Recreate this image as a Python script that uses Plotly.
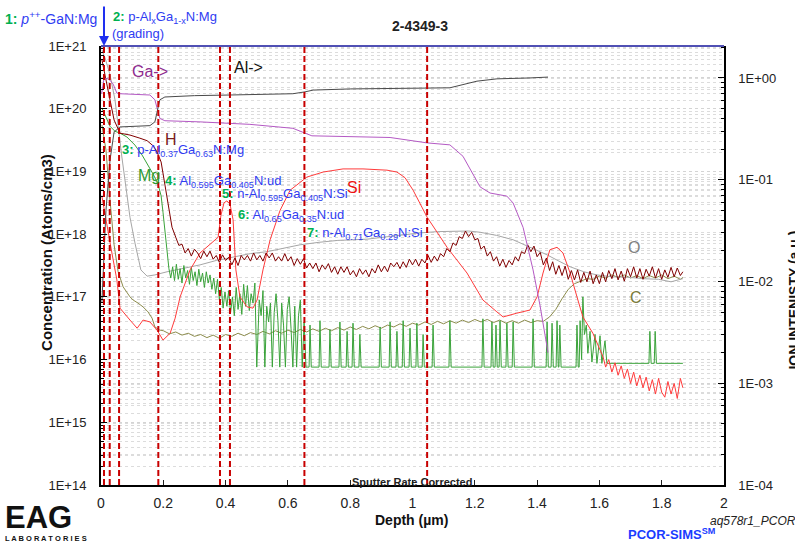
import plotly.graph_objects as go

# ---------------- data ----------------
interfaces = [0.0096, 0.028, 0.058, 0.184, 0.382, 0.414, 0.653, 1.047]

x_ticks = [0, 0.2, 0.4, 0.6, 0.8, 1.0, 1.2, 1.4, 1.6, 1.8, 2.0]
x_ticktext = ["0", "0.2", "0.4", "0.6", "0.8", "1", "1.2", "1.4", "1.6", "1.8", "2"]
conc_ticks = [1e14, 1e15, 1e16, 1e17, 1e18, 1e19, 1e20, 1e21]
conc_ticktext = ["1E+14", "1E+15", "1E+16", "1E+17", "1E+18", "1E+19", "1E+20", "1E+21"]
ion_ticks = [1e-4, 1e-3, 1e-2, 1e-1, 1e0]
ion_ticktext = ["1E-04", "1E-03", "1E-02", "1E-01", "1E+00"]

# Ion intensities (a.u.) - right axis
ga_depth = [0.002, 0.010, 0.022, 0.029, 0.039, 0.051, 0.061, 0.157, 0.173, 0.189, 0.205, 0.318,
            0.478, 0.616, 0.677, 0.928, 1.047, 1.120, 1.162, 1.217, 1.249, 1.303, 1.323, 1.355,
            1.387, 1.409, 1.435]
ga_int = [0.70, 1.00, 0.98, 0.95, 0.87, 0.71, 0.70, 0.68, 0.61, 0.40, 0.38, 0.37,
          0.35, 0.32, 0.27, 0.26, 0.23, 0.22, 0.17, 0.085, 0.074, 0.069, 0.059, 0.034,
          0.013, 0.0059, 0.0020]

al_depth = [0.003, 0.016, 0.029, 0.042, 0.061, 0.157, 0.173, 0.189, 0.205, 0.300, 0.414, 0.520,
            0.616, 0.655, 0.681, 0.800, 0.950, 1.047, 1.120, 1.207, 1.271, 1.377, 1.435]
al_int = [0.0063, 0.050, 0.156, 0.294, 0.33, 0.34, 0.37, 0.61, 0.65, 0.67, 0.68, 0.69,
          0.70, 0.73, 0.76, 0.78, 0.79, 0.80, 0.80, 0.93, 0.98, 1.00, 1.02]

# Concentrations (log10 atoms/cm3) - left axis
o_depth = [0.003, 0.013, 0.029, 0.045, 0.067, 0.093, 0.109, 0.128, 0.148, 0.173, 0.212, 0.260,
           0.318, 0.370, 0.424, 0.480, 0.533, 0.590, 0.639, 0.700, 0.760, 0.854, 0.940, 1.024,
           1.080, 1.130, 1.180, 1.217, 1.270, 1.323, 1.377, 1.432, 1.470, 1.506, 1.550, 1.592,
           1.640, 1.698, 1.740, 1.790, 1.830, 1.868]
o_log = [20.94, 20.81, 20.54, 20.14, 19.23, 18.27, 17.86, 17.43, 17.33, 17.35, 17.40, 17.45,
         17.51, 17.58, 17.64, 17.69, 17.72, 17.78, 17.83, 17.87, 17.90, 17.92, 17.97, 18.02,
         18.04, 18.05, 18.05, 18.03, 17.98, 17.91, 17.79, 17.67, 17.57, 17.48, 17.40, 17.35,
         17.32, 17.31, 17.29, 17.28, 17.24, 17.29]

h_depth = [0.003, 0.016, 0.029, 0.042, 0.061, 0.093, 0.125, 0.148, 0.167, 0.180, 0.193, 0.199,
           0.205, 0.215, 0.228,
           0.24, 0.25, 0.26, 0.27, 0.28, 0.29, 0.30, 0.31, 0.32, 0.33, 0.34, 0.35, 0.36, 0.37,
           0.38, 0.39, 0.40, 0.41, 0.42, 0.43, 0.44, 0.45, 0.46, 0.47, 0.48, 0.49, 0.50, 0.51,
           0.52, 0.53, 0.54, 0.55, 0.56, 0.57, 0.58, 0.59, 0.60, 0.61, 0.62, 0.63, 0.64, 0.65,
           0.66, 0.67, 0.68, 0.69, 0.70, 0.71, 0.72, 0.73, 0.74, 0.75, 0.76, 0.77, 0.78, 0.79,
           0.80, 0.81, 0.82, 0.83, 0.84, 0.85, 0.86, 0.87, 0.88, 0.89, 0.90, 0.91, 0.92, 0.93,
           0.94, 0.95, 0.96, 0.97, 0.98, 0.99, 1.00, 1.01, 1.02, 1.03, 1.04, 1.05, 1.06, 1.07,
           1.08, 1.09, 1.10, 1.11, 1.12, 1.13, 1.14, 1.15, 1.16, 1.17, 1.18, 1.19, 1.20, 1.21,
           1.22, 1.23, 1.24, 1.25, 1.26, 1.27, 1.28, 1.29, 1.30, 1.31, 1.32, 1.33, 1.34, 1.35,
           1.36, 1.37, 1.38, 1.39, 1.40, 1.41, 1.42, 1.43, 1.44, 1.45, 1.46, 1.47, 1.48, 1.49,
           1.50, 1.51, 1.52, 1.53, 1.54, 1.55, 1.56, 1.57, 1.58, 1.59, 1.60, 1.61, 1.62, 1.63,
           1.64, 1.65, 1.66, 1.67, 1.68, 1.69, 1.70, 1.71, 1.72, 1.73, 1.74, 1.75, 1.76, 1.77,
           1.78, 1.79, 1.80, 1.81, 1.82, 1.83, 1.84, 1.85, 1.86, 1.868]
h_log = [20.78, 20.46, 20.14, 19.82, 19.61, 19.58, 19.53, 19.49, 19.41, 19.31, 19.15, 18.97,
         18.75, 18.43, 18.11,
         17.95, 17.82, 17.84, 17.70, 17.77, 17.65, 17.76, 17.70, 17.61, 17.73, 17.64, 17.73, 17.60, 17.66,
         17.55, 17.67, 17.58, 17.63, 17.51, 17.62, 17.50, 17.66, 17.59, 17.66, 17.57, 17.70, 17.59, 17.66,
         17.57, 17.70, 17.62, 17.70, 17.57, 17.64, 17.57, 17.69, 17.57, 17.64, 17.50, 17.61, 17.52, 17.61,
         17.46, 17.54, 17.45, 17.54, 17.40, 17.51, 17.44, 17.53, 17.39, 17.48, 17.36, 17.48, 17.39, 17.48,
         17.35, 17.42, 17.32, 17.45, 17.36, 17.43, 17.32, 17.45, 17.38, 17.51, 17.40, 17.49, 17.40, 17.54,
         17.48, 17.55, 17.45, 17.56, 17.47, 17.60, 17.51, 17.60, 17.49, 17.60, 17.54, 17.66, 17.55, 17.65,
         17.57, 17.69, 17.64, 17.77, 17.72, 17.86, 17.82, 17.96, 17.93, 18.05, 17.96, 18.03, 17.91, 17.93,
         17.76, 17.81, 17.65, 17.72, 17.57, 17.64, 17.49, 17.60, 17.47, 17.58, 17.51, 17.64, 17.57, 17.72,
         17.69, 17.83, 17.72, 17.81, 17.64, 17.71, 17.51, 17.62, 17.42, 17.56, 17.36, 17.50, 17.34, 17.49,
         17.28, 17.42, 17.27, 17.43, 17.23, 17.39, 17.24, 17.41, 17.21, 17.35, 17.21, 17.39, 17.24, 17.42,
         17.29, 17.45, 17.27, 17.41, 17.25, 17.45, 17.32, 17.48, 17.30, 17.45, 17.28, 17.44, 17.33, 17.48,
         17.30, 17.45, 17.28, 17.43, 17.31, 17.47, 17.32, 17.46, 17.34, 17.40]

mg_depth = [0.003, 0.016, 0.029, 0.045, 0.061, 0.083, 0.109, 0.132, 0.151, 0.167, 0.183, 0.193,
            0.199, 0.205, 0.212, 0.218,
            0.224, 0.230, 0.236, 0.242, 0.248, 0.254, 0.260, 0.266, 0.272, 0.278, 0.284, 0.290,
            0.296, 0.302, 0.308, 0.314, 0.320, 0.326, 0.332, 0.338, 0.344, 0.350, 0.356, 0.362,
            0.368, 0.374, 0.380, 0.386, 0.392, 0.398,
            0.404, 0.410, 0.416, 0.422, 0.428, 0.434, 0.440, 0.446, 0.452, 0.458, 0.464, 0.470,
            0.476, 0.482, 0.488, 0.494, 0.500,
            0.508, 0.514, 0.520, 0.526, 0.532, 0.538, 0.544, 0.550, 0.556, 0.562, 0.568, 0.574,
            0.580, 0.586, 0.592, 0.598, 0.604, 0.610, 0.616, 0.622, 0.628, 0.634, 0.640, 0.646,
            0.652, 0.658,
            0.668, 0.671, 0.675, 0.700, 0.703, 0.707, 0.732, 0.735, 0.739, 0.764, 0.767, 0.771,
            0.787, 0.790, 0.794, 0.806, 0.809, 0.813, 0.828, 0.831, 0.835, 0.893, 0.896, 0.900,
            0.925, 0.928, 0.932, 0.947, 0.950, 0.954, 0.967, 0.970, 0.974, 0.989, 0.992, 0.996,
            1.011, 1.014, 1.018, 1.031, 1.034, 1.038, 1.063, 1.066, 1.070, 1.117, 1.120, 1.124,
            1.223, 1.226, 1.230, 1.252, 1.255, 1.259, 1.265, 1.268, 1.272, 1.278, 1.281, 1.285,
            1.300, 1.303, 1.307, 1.320, 1.323, 1.327, 1.384, 1.387, 1.391, 1.429, 1.432, 1.436,
            1.445, 1.448, 1.452, 1.461, 1.464, 1.468, 1.470, 1.473, 1.477, 1.525, 1.528, 1.532,
            1.535, 1.538, 1.543, 1.547, 1.552, 1.558, 1.563, 1.570, 1.576, 1.586, 1.592, 1.602,
            1.608, 1.618, 1.624, 1.759, 1.762, 1.766, 1.776, 1.779, 1.783, 1.868]
mg_log = [20.01, 19.85, 19.72, 19.64, 19.61, 19.55, 19.42, 19.26, 19.10, 18.96, 18.80, 18.61,
          18.35, 18.03, 17.67, 17.45,
          17.30, 17.48, 17.26, 17.52, 17.28, 17.45, 17.22, 17.50, 17.30, 17.42, 17.20, 17.47,
          17.26, 17.40, 17.18, 17.44, 17.24, 17.38, 17.15, 17.40, 17.22, 17.35, 17.12, 17.30,
          17.05, 17.28, 16.95, 17.15, 16.82, 17.08,
          16.85, 17.10, 16.75, 17.00, 16.70, 17.15, 16.80, 17.05, 16.72, 17.20, 16.85, 17.18,
          16.78, 17.05, 16.90, 17.22, 15.88,
          16.95, 16.70, 17.10, 15.88, 16.85, 16.60, 16.90, 15.88, 16.75, 17.05, 16.62, 15.88,
          16.90, 16.55, 15.88, 16.80, 17.00, 16.50, 15.88, 16.85, 15.88, 16.70, 16.95, 15.88,
          16.60, 15.88,
          15.88, 16.55, 15.88, 15.88, 16.62, 15.88, 15.88, 16.48, 15.88, 15.88, 16.60, 15.88,
          15.88, 16.45, 15.88, 15.88, 16.58, 15.88, 15.88, 16.40, 15.88, 15.88, 16.52, 15.88,
          15.88, 16.60, 15.88, 15.88, 16.45, 15.88, 15.88, 16.62, 15.88, 15.88, 16.50, 15.88,
          15.88, 16.58, 15.88, 15.88, 16.40, 15.88, 15.88, 16.55, 15.88, 15.88, 16.62, 15.88,
          15.88, 16.65, 15.88, 15.88, 16.60, 15.88, 15.88, 16.55, 15.88, 15.88, 16.62, 15.88,
          15.88, 16.58, 15.88, 15.88, 16.60, 15.88, 15.88, 16.65, 15.88, 15.88, 16.60, 15.88,
          15.88, 16.58, 15.88, 15.88, 16.62, 15.88, 15.88, 16.55, 15.88, 15.88, 16.55, 15.88,
          15.88, 16.62, 16.00, 17.00, 16.40, 16.55, 16.10, 16.45, 15.96, 16.40, 15.94, 16.38,
          15.94, 16.30, 15.94, 15.94, 16.45, 15.94, 15.94, 16.45, 15.94, 15.94]

si_depth = [0.003, 0.020, 0.035, 0.051, 0.061, 0.093, 0.116, 0.135, 0.157, 0.180, 0.199, 0.222,
            0.238, 0.254, 0.286, 0.318, 0.360, 0.376, 0.385, 0.395, 0.404, 0.414, 0.424, 0.433,
            0.446, 0.469, 0.488, 0.501, 0.520, 0.543, 0.575, 0.607, 0.661, 0.713, 0.777, 0.841,
            0.918, 0.950, 0.976, 1.002, 1.047, 1.111, 1.175, 1.226, 1.271, 1.291, 1.335, 1.377,
            1.400, 1.419, 1.441, 1.464, 1.483, 1.506, 1.528, 1.547, 1.579, 1.612, 1.620, 1.630,
            1.640, 1.650, 1.660, 1.670, 1.680, 1.690, 1.700, 1.710, 1.720, 1.730, 1.740, 1.750,
            1.760, 1.770, 1.780, 1.790, 1.800, 1.810, 1.820, 1.830, 1.840, 1.850, 1.860, 1.868]
si_log = [18.60, 18.10, 17.70, 17.27, 16.82, 16.63, 16.50, 16.63, 16.60, 16.47, 16.31, 16.42,
          16.66, 17.00, 17.43, 17.70, 17.87, 17.95, 18.30, 18.50, 18.53, 18.48, 18.23, 17.43,
          17.00, 16.84, 16.82, 16.95, 17.43, 17.91, 18.38, 18.70, 18.91, 18.99, 19.04, 19.04,
          19.02, 18.99, 18.90, 18.70, 18.27, 17.79, 17.38, 16.95, 16.76, 16.68, 16.74, 16.79,
          17.00, 17.38, 17.75, 17.79, 17.70, 17.38, 17.00, 16.68, 16.42, 16.04, 15.88, 16.00,
          15.80, 15.95, 15.75, 15.90, 15.70, 15.85, 15.62, 15.80, 15.58, 15.75, 15.55, 15.72,
          15.50, 15.68, 15.45, 15.70, 15.48, 15.40, 15.65, 15.45, 15.62, 15.38, 15.70, 15.55]

c_depth = [0.003, 0.016, 0.029, 0.042, 0.055, 0.071, 0.093, 0.103, 0.119, 0.135, 0.151, 0.164,
           0.173, 0.189,
           0.20, 0.22, 0.24, 0.26, 0.28, 0.30, 0.32, 0.34, 0.36, 0.38, 0.40, 0.42, 0.44, 0.46,
           0.48, 0.50, 0.52, 0.54, 0.56, 0.58, 0.60, 0.62, 0.64, 0.66, 0.68, 0.70, 0.72, 0.74,
           0.76, 0.78, 0.80, 0.82, 0.84, 0.86, 0.88, 0.90, 0.92, 0.94, 0.96, 0.98, 1.00, 1.02,
           1.04, 1.06, 1.08, 1.10, 1.12, 1.14, 1.16, 1.18, 1.20, 1.22, 1.24, 1.26, 1.28, 1.30,
           1.32, 1.34, 1.36, 1.38, 1.40, 1.42, 1.44, 1.46, 1.48, 1.50, 1.52, 1.54, 1.56, 1.58,
           1.60, 1.62, 1.64, 1.66, 1.68, 1.70, 1.72, 1.74, 1.76, 1.78, 1.80, 1.82, 1.84, 1.86,
           1.868]
c_log = [19.74, 19.34, 18.54, 17.83, 17.40, 17.16, 17.00, 16.95, 16.90, 16.84, 16.76, 16.66,
         16.52, 16.47,
         16.46, 16.41, 16.44, 16.39, 16.42, 16.37, 16.40, 16.35, 16.39, 16.34, 16.40, 16.37, 16.42, 16.38,
         16.43, 16.40, 16.45, 16.41, 16.46, 16.42, 16.47, 16.43, 16.48, 16.44, 16.49, 16.45, 16.50, 16.46,
         16.51, 16.47, 16.52, 16.48, 16.53, 16.49, 16.54, 16.50, 16.55, 16.52, 16.57, 16.53, 16.58, 16.55,
         16.60, 16.56, 16.61, 16.57, 16.62, 16.58, 16.63, 16.59, 16.64, 16.60, 16.64, 16.59, 16.63, 16.58,
         16.62, 16.58, 16.63, 16.59, 16.62, 16.61, 16.68, 16.80, 16.97, 17.12, 17.21, 17.25, 17.29, 17.28,
         17.33, 17.30, 17.35, 17.31, 17.35, 17.30, 17.34, 17.29, 17.34, 17.30, 17.35, 17.29, 17.33, 17.28,
         17.31]

# ---------------- figure ----------------
FONT = "Arial, Liberation Sans, sans-serif"
fig = go.Figure()

def conc(vals):
    return [10.0 ** v for v in vals]

fig.add_trace(go.Scatter(x=c_depth, y=conc(c_log), mode="lines", line=dict(color="#8c8c4c", width=1), name="C"))
fig.add_trace(go.Scatter(x=o_depth, y=conc(o_log), mode="lines", line=dict(color="#a6a6a6", width=1), name="O"))
fig.add_trace(go.Scatter(x=mg_depth, y=conc(mg_log), mode="lines", line=dict(color="#3aa33a", width=1), name="Mg"))
fig.add_trace(go.Scatter(x=si_depth, y=conc(si_log), mode="lines", line=dict(color="#ff3b3b", width=1), name="Si"))
fig.add_trace(go.Scatter(x=h_depth, y=conc(h_log), mode="lines", line=dict(color="#800000", width=1), name="H"))
fig.add_trace(go.Scatter(x=ga_depth, y=ga_int, mode="lines", line=dict(color="#b459c4", width=1), name="Ga", yaxis="y2"))
fig.add_trace(go.Scatter(x=al_depth, y=al_int, mode="lines", line=dict(color="#4a4a4a", width=1), name="Al", yaxis="y2"))

shapes = []
for d in interfaces:
    shapes.append(dict(type="line", xref="x", yref="paper", x0=d, x1=d, y0=0, y1=1,
                       line=dict(color="#c80000", width=2, dash="6px,3px")))
shapes.append(dict(type="line", xref="paper", yref="paper", x0=0, x1=1, y0=1, y1=1,
                   line=dict(color="#5050b4", width=2)))

minor_conc = [m * 10.0 ** e for e in range(14, 21) for m in range(2, 10)]
minor_ion = [m * 10.0 ** e for e in range(-4, 1) for m in range(2, 10) if m * 10.0 ** e < 2.06]

G = "#00b050"
B = "#2f3cf2"
def num(n):
    return "<b><span style='color:%s'>%s:</span></b> " % (G, n)

ann = []
def add(text, x, y, xref="x", yref="paper", size=13, color=B, xanchor="left", yanchor="middle", **kw):
    ann.append(dict(text=text, x=x, y=y, xref=xref, yref=yref, showarrow=False,
                    font=dict(family=FONT, size=size, color=color), xanchor=xanchor, yanchor=yanchor, **kw))

add(num(1) + "<i>p</i><sup>++</sup>-GaN:Mg", -0.157, 1.064, xref="paper", size=14)
add(num(2) + "p-Al<sub>x</sub>Ga<sub>1-x</sub>N:Mg", 0.016, 1.064, xref="paper")
add("(grading)", 0.0144, 1.029, xref="paper")
add(num(3) + "p-Al<sub>0.37</sub>Ga<sub>0.63</sub>N:Mg", 0.061, 0.761)
add(num(4) + "Al<sub>0.595</sub>Ga<sub>0.405</sub>N:ud", 0.199, 0.692)
add(num(5) + "n-Al<sub>0.595</sub>Ga<sub>0.405</sub>N:Si", 0.382, 0.661)
add(num(6) + "Al<sub>0.65</sub>Ga<sub>0.35</sub>N:ud", 0.433, 0.615)
add(num(7) + "n-Al<sub>0.71</sub>Ga<sub>0.29</sub>N:Si", 0.655, 0.574)

add("Ga->", 0.093, 0.941, size=16, color="#8e2a8e")
add("Al->", 0.421, 0.950, size=16, color="#111111")
add("H", 0.199, 0.786, size=16, color="#7a1c1c")
add("Mg", 0.112, 0.706, size=16, color="#2f9a2f")
add("Si", 0.783, 0.677, size=16, color="#ee1111")
add("O", 1.685, 0.540, size=16, color="#808080")
add("C", 1.692, 0.428, size=16, color="#7a7a3a")

add("<b>2-4349-3</b>", 0.512, 1.046, xref="paper", size=14, color="#222222", xanchor="center")
add("<b>Sputter Rate Corrected</b>", 0.499, 0.006, xref="paper", size=11, color="#222222", xanchor="center")
add("<b>Depth (µm)</b>", 0.499, -0.080, xref="paper", size=14, color="#111111", xanchor="center")
add("<b>Concentration (Atoms/cm3)</b>", -0.0867, 0.531, xref="paper", size=15, color="#111111",
    xanchor="center", textangle=-90)
add("<b>ION INTENISTY (a.u.)</b>", 1.113, 0.421, xref="paper", size=14, color="#111111",
    xanchor="center", textangle=-90)
add("<b>EAG</b>", -0.158, -0.073, xref="paper", size=31, color="#111111")
add("<b>L A B O R A T O R I E S</b>", -0.157, -0.121, xref="paper", size=7.5, color="#111111")
add("<b>PCOR-SIMS<sup>SM</sup></b>", 0.842, -0.112, xref="paper", size=13, color="#1a3cff")
add("<i>aq578r1_PCOR</i>", 0.974, -0.083, xref="paper", size=12, color="#222222")

ann.append(dict(x=interfaces[0], y=1.0, xref="x", yref="paper", text="", showarrow=True,
                ax=0, ay=-41, arrowhead=2, arrowsize=1, arrowwidth=2, arrowcolor="#1f2ff0"))

axis_font = dict(family=FONT, size=13, color="#222222")
fig.update_layout(
    width=795, height=541,
    margin=dict(l=101, r=71, t=46, b=56),
    paper_bgcolor="white", plot_bgcolor="white",
    showlegend=False,
    shapes=shapes, annotations=ann,
    xaxis=dict(range=[0, 2], tickmode="array", tickvals=x_ticks, ticktext=x_ticktext,
               ticks="inside", ticklen=5, tickcolor="#222", showline=True, linecolor="black",
               linewidth=2, showgrid=False, zeroline=False, tickfont=dict(family=FONT, size=14, color="#222"),
               ticklabelstandoff=4),
    yaxis=dict(type="log", range=[14, 21], tickmode="array", tickvals=conc_ticks, ticktext=conc_ticktext,
               ticks="inside", ticklen=6, tickcolor="black", showline=True, linecolor="black", linewidth=2,
               showgrid=True, gridcolor="#d4d4d4", griddash="dot", gridwidth=1, zeroline=False,
               tickfont=axis_font, ticklabelstandoff=10,
               minor=dict(tickmode="array", tickvals=minor_conc, ticks="inside", ticklen=3,
                          tickcolor="black", showgrid=True, gridcolor="#dcdcdc", griddash="dot")),
    yaxis2=dict(type="log", range=[-4, 0.314], overlaying="y", side="right", tickmode="array",
                tickvals=ion_ticks, ticktext=ion_ticktext, ticks="inside", ticklen=6, tickcolor="black",
                showline=True, linecolor="black", linewidth=1.5, showgrid=True, gridcolor="#d4d4d4",
                griddash="dot", zeroline=False, tickfont=axis_font, ticklabelstandoff=10,
                minor=dict(tickmode="array", tickvals=minor_ion, ticks="inside", ticklen=3,
                           tickcolor="black", showgrid=True, gridcolor="#dcdcdc", griddash="dot")),
)

fig.write_html("out.html")
